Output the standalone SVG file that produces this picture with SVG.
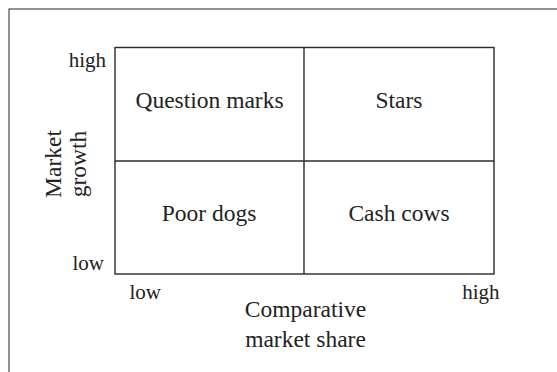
<svg xmlns="http://www.w3.org/2000/svg" width="557" height="372" viewBox="0 0 557 372">
  <style>
    .frame { fill: none; stroke: #4a4a4a; stroke-width: 1.2; }
    .grid { fill: none; stroke: #2a2a2a; stroke-width: 1.4; }
    text { font-family: "Liberation Serif", "Times New Roman", serif; fill: #222; }
    .cell { font-size: 23.5px; text-anchor: middle; }
    .tick { font-size: 21px; }
    .axis { font-size: 23.5px; text-anchor: middle; }
  </style>
  <rect width="557" height="372" fill="#fff"/>
  <!-- outer frame (runs off the right and bottom edges) -->
  <rect class="frame" x="9" y="9" width="560" height="380"/>

  <!-- matrix outline and dividers -->
  <g id="connectors">
    <rect class="grid" x="115" y="47.5" width="379" height="226.5"/>
    <line class="grid" x1="304" y1="47.5" x2="304" y2="274"/>
    <line class="grid" x1="115" y1="161" x2="494" y2="161"/>
  </g>

  <g id="question-marks"><text class="cell" x="209.5" y="108">Question marks</text></g>
  <g id="stars"><text class="cell" x="399" y="108">Stars</text></g>
  <g id="poor-dogs"><text class="cell" x="209" y="221">Poor dogs</text></g>
  <g id="cash-cows"><text class="cell" x="399" y="221">Cash cows</text></g>

  <!-- axis scale labels -->
  <g id="y-ticks">
    <text class="tick" x="106" y="66.5" text-anchor="end">high</text>
    <text class="tick" x="104" y="270" text-anchor="end">low</text>
  </g>
  <g id="x-ticks">
    <text class="tick" x="129.5" y="299">low</text>
    <text class="tick" x="499.5" y="299" text-anchor="end">high</text>
  </g>

  <!-- axis titles -->
  <g id="y-axis-title" transform="translate(61,164) rotate(-90)">
    <text class="axis" x="0" y="0">Market</text>
    <text class="axis" x="0" y="25">growth</text>
  </g>
  <g id="x-axis-title">
    <text class="axis" x="305.5" y="316.5">Comparative</text>
    <text class="axis" x="305.5" y="346.5">market share</text>
  </g>
</svg>
